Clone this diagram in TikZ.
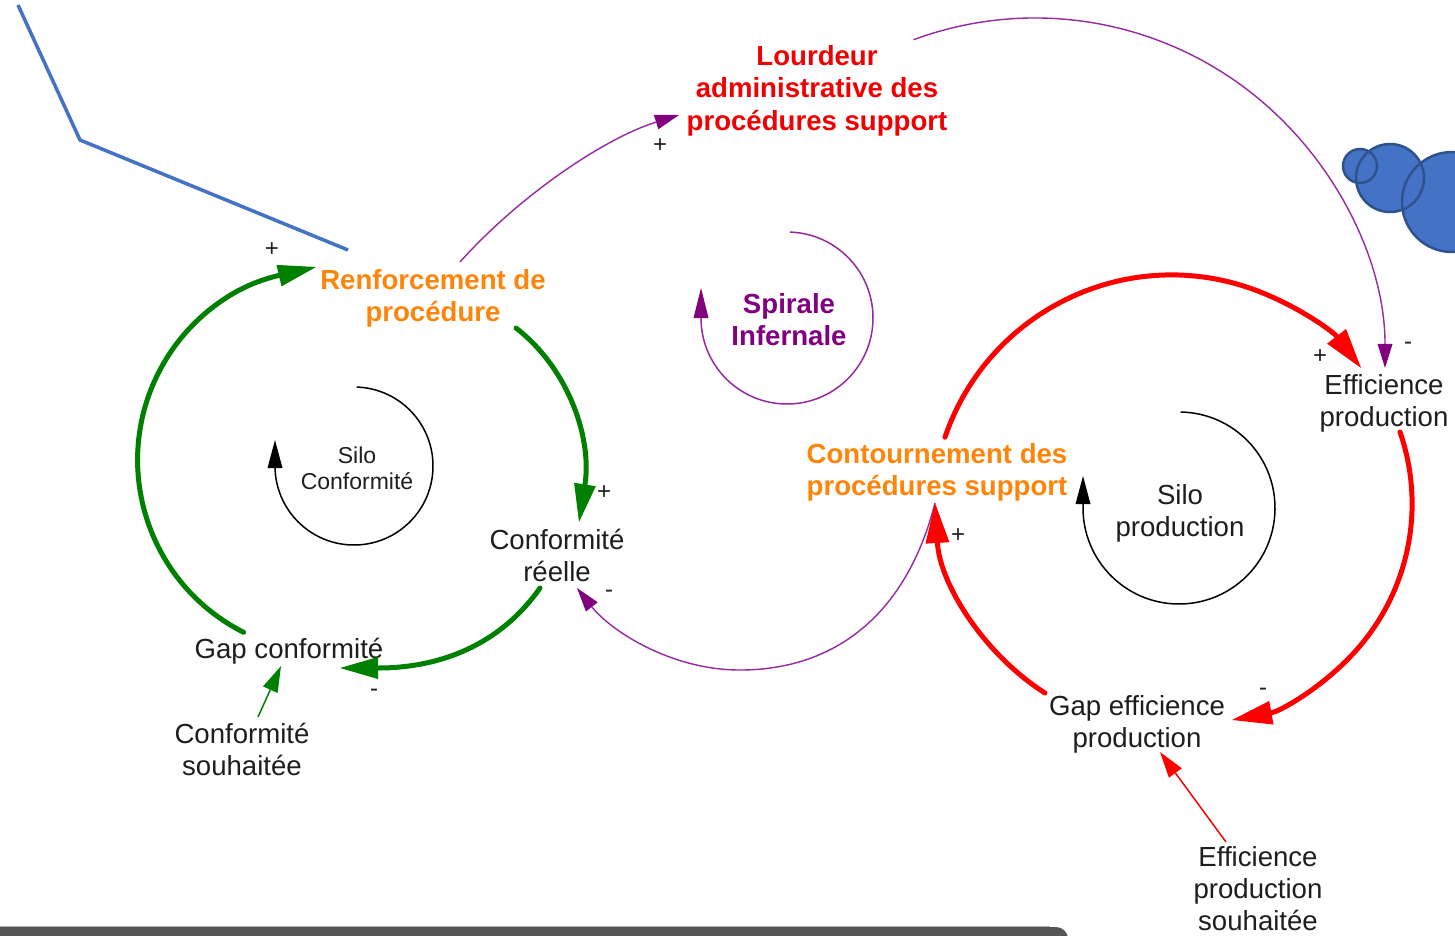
\documentclass[tikz,border=0pt]{standalone}
\usepackage{fontspec}
\setmainfont{Liberation Sans}
\usetikzlibrary{arrows.meta}
\definecolor{cgreen}{RGB}{0,128,0}
\definecolor{cred}{RGB}{255,0,0}
\definecolor{ctitle}{RGB}{240,0,0}
\definecolor{corange}{RGB}{255,133,10}
\definecolor{cpurple}{RGB}{128,0,128}
\definecolor{cpline}{RGB}{150,40,160}
\definecolor{cblue}{RGB}{68,114,196}
\definecolor{cbluedark}{RGB}{47,82,143}
\definecolor{cbar}{RGB}{85,85,85}
\definecolor{ctext}{RGB}{30,30,30}
\begin{document}
\begin{tikzpicture}[x=1pt,y=-1pt,
  lbl/.style={align=center,text=ctext,inner sep=0pt,font=\fontsize{27.6}{32}\selectfont},
  blbl/.style={align=center,inner sep=0pt,font=\fontsize{27.6}{32.5}\selectfont\bfseries},
  slbl/.style={align=center,text=ctext,inner sep=0pt,font=\fontsize{23}{26}\selectfont},
  sgn/.style={inner sep=0pt,text=ctext,font=\fontsize{24}{24}\selectfont},
  gthick/.style={draw=cgreen,line width=5pt,line cap=round,-{Triangle[length=38pt,width=22pt,line width=0pt]}},
  rthick/.style={draw=cred,line width=5pt,line cap=round,-{Triangle[length=40pt,width=24pt,line width=0pt]}},
  pthin/.style={draw=cpline,line width=1.4pt,-{Triangle[length=24pt,width=15pt,line width=0pt,color=cpurple]}},
  gthin/.style={draw=cgreen,line width=1.5pt,-{Triangle[length=26pt,width=16pt,line width=0pt]}},
  rthin/.style={draw=cred,line width=1.5pt,-{Triangle[length=26pt,width=16pt,line width=0pt]}},
  siloarc/.style={line width=1.5pt,-{Triangle[length=28pt,width=15pt,line width=0pt]}},
  bubble/.style={fill=cblue,draw=cbluedark,line width=2.5pt}]
\useasboundingbox (0,0) rectangle (1455,935);
\clip (0,0) rectangle (1455,935);
\fill[white] (0,0) rectangle (1455,935);

% blue decorations
\draw[cblue,line width=3.5pt] (18,5) -- (80,140) -- (348,250);
\fill[cblue] (1360,166) circle[radius=17] (1390,178) circle[radius=34] (1452,202) circle[radius=50];
\draw[cbluedark,line width=2.5pt] (1360,166) circle[radius=17] (1390,178) circle[radius=34] (1452,202) circle[radius=50];

% bottom bar
\fill[cbar,rounded corners=12pt] (-30,927) rectangle (1068,980);
\draw[black!30,line width=1pt] (0,926.3) -- (1050,926.3);

% nodes
\node[blbl,text=ctitle] (lourd) at (817,91) {\strut Lourdeur\\\strut administrative des\\\strut procédures support};
\node[blbl,text=corange] (renf) at (433,299) {\strut Renforcement de\\\strut procédure};
\node[blbl,text=cpurple] (spir) at (789,323) {\strut Spirale\\\strut Infernale};
\node[lbl] (confr) at (557,559) {\strut Conformité\\\strut réelle};
\node[lbl] (gapc) at (289,652) {\strut Gap conformité};
\node[lbl] (confs) at (242,753) {\strut Conformité\\\strut souhaitée};
\node[slbl] (siloc) at (357,471) {\strut Silo\\\strut Conformité};
\node[blbl,text=corange] (cont) at (937,473) {\strut Contournement des\\\strut procédures support};
\node[lbl] (silop) at (1180,514) {\strut Silo\\\strut production};
\node[lbl] (effp) at (1384,404) {\strut Efficience\\\strut production};
\node[lbl] (gape) at (1137,725) {\strut Gap efficience\\\strut production};
\node[lbl] (effs) at (1258,892) {\strut Efficience\\\strut production\\\strut souhaitée};

% connector end points
\coordinate (renfTop) at (460,262);
\coordinate (lourdIn) at (679,115);
\coordinate (lourdOut) at (913.6,39.7);
\coordinate (effpIn) at (1385,368);
\coordinate (contBot) at (935,503);
\coordinate (confrIn) at (577,588);
\coordinate (gapcOut) at (243.6,632.3);
\coordinate (renfIn) at (316,267);
\coordinate (renfOut) at (516,328);
\coordinate (confrInTop) at (579,522);
\coordinate (confrOut) at (540,588);
\coordinate (gapcIn) at (340,668);
\coordinate (confsOut) at (258,717);
\coordinate (gapcInBot) at (281,666);
\coordinate (contTop) at (945,437.2);
\coordinate (effpInL) at (1361,368);
\coordinate (effpOut) at (1400,432);
\coordinate (gapeIn) at (1232,720);
\coordinate (gapeOut) at (1045,693);
\coordinate (effsOut) at (1226,842);
\coordinate (gapeInBot) at (1160,752);

% purple links
\draw[pthin] (renfTop) .. controls (520,195) and (605,138) .. (lourdIn);
\draw[pthin] (lourdOut) arc[start angle=-110.3,end angle=0,radius=350];
\draw[pthin] (contBot) .. controls (905,620) and (830,670) .. (740,670) .. controls (670,670) and (610,630) .. (confrIn);

% loop circles
\draw[siloarc,draw=cpline,-{Triangle[length=30pt,width=15pt,line width=0pt,color=cpurple]}] (787,318) ++(-88:86) arc[start angle=-88,end angle=180,radius=86] -- ++(0,-30);
\draw[siloarc,draw=black] (354,466) ++(-88:79) arc[start angle=-88,end angle=180,radius=79] -- ++(0,-26);
\draw[siloarc,draw=black] (1179,508) ++(-89:96) arc[start angle=-89,end angle=180,radius=96] -- ++(0,-32);

% green loop
\draw[gthick] (gapcOut) arc[start angle=116.8,end angle=240,radius=193] .. controls (260,278) and (286,274) .. (renfIn);
\draw[gthick] (renfOut) .. controls (570,370) and (592,440) .. (confrInTop);
\draw[gthick] (confrOut) .. controls (500,645) and (440,668) .. (gapcIn);
\draw[gthin] (confsOut) -- (gapcInBot);

% red loop
\draw[rthick] (contTop) arc[start angle=-161.2,end angle=-37.7,radius=239.4];
\draw[rthick] (effpOut) arc[start angle=-19.1,end angle=79.6,radius=219.7];
\draw[rthick] (gapeOut) .. controls (985,655) and (940,585) .. (contBot);
\draw[rthin] (effsOut) -- (gapeInBot);

% signs
\node[sgn] (s1) at (272,250) {+};
\node[sgn] (s2) at (660,146) {+};
\node[sgn] (s3) at (604,493) {+};
\node[sgn] (s4) at (374,693) {-};
\node[sgn] (s5) at (609,594) {-};
\node[sgn] (s6) at (958,536) {+};
\node[sgn] (s7) at (1320,357) {+};
\node[sgn] (s8) at (1408,346) {-};
\node[sgn] (s9) at (1263,692) {-};
\end{tikzpicture}
\end{document}
